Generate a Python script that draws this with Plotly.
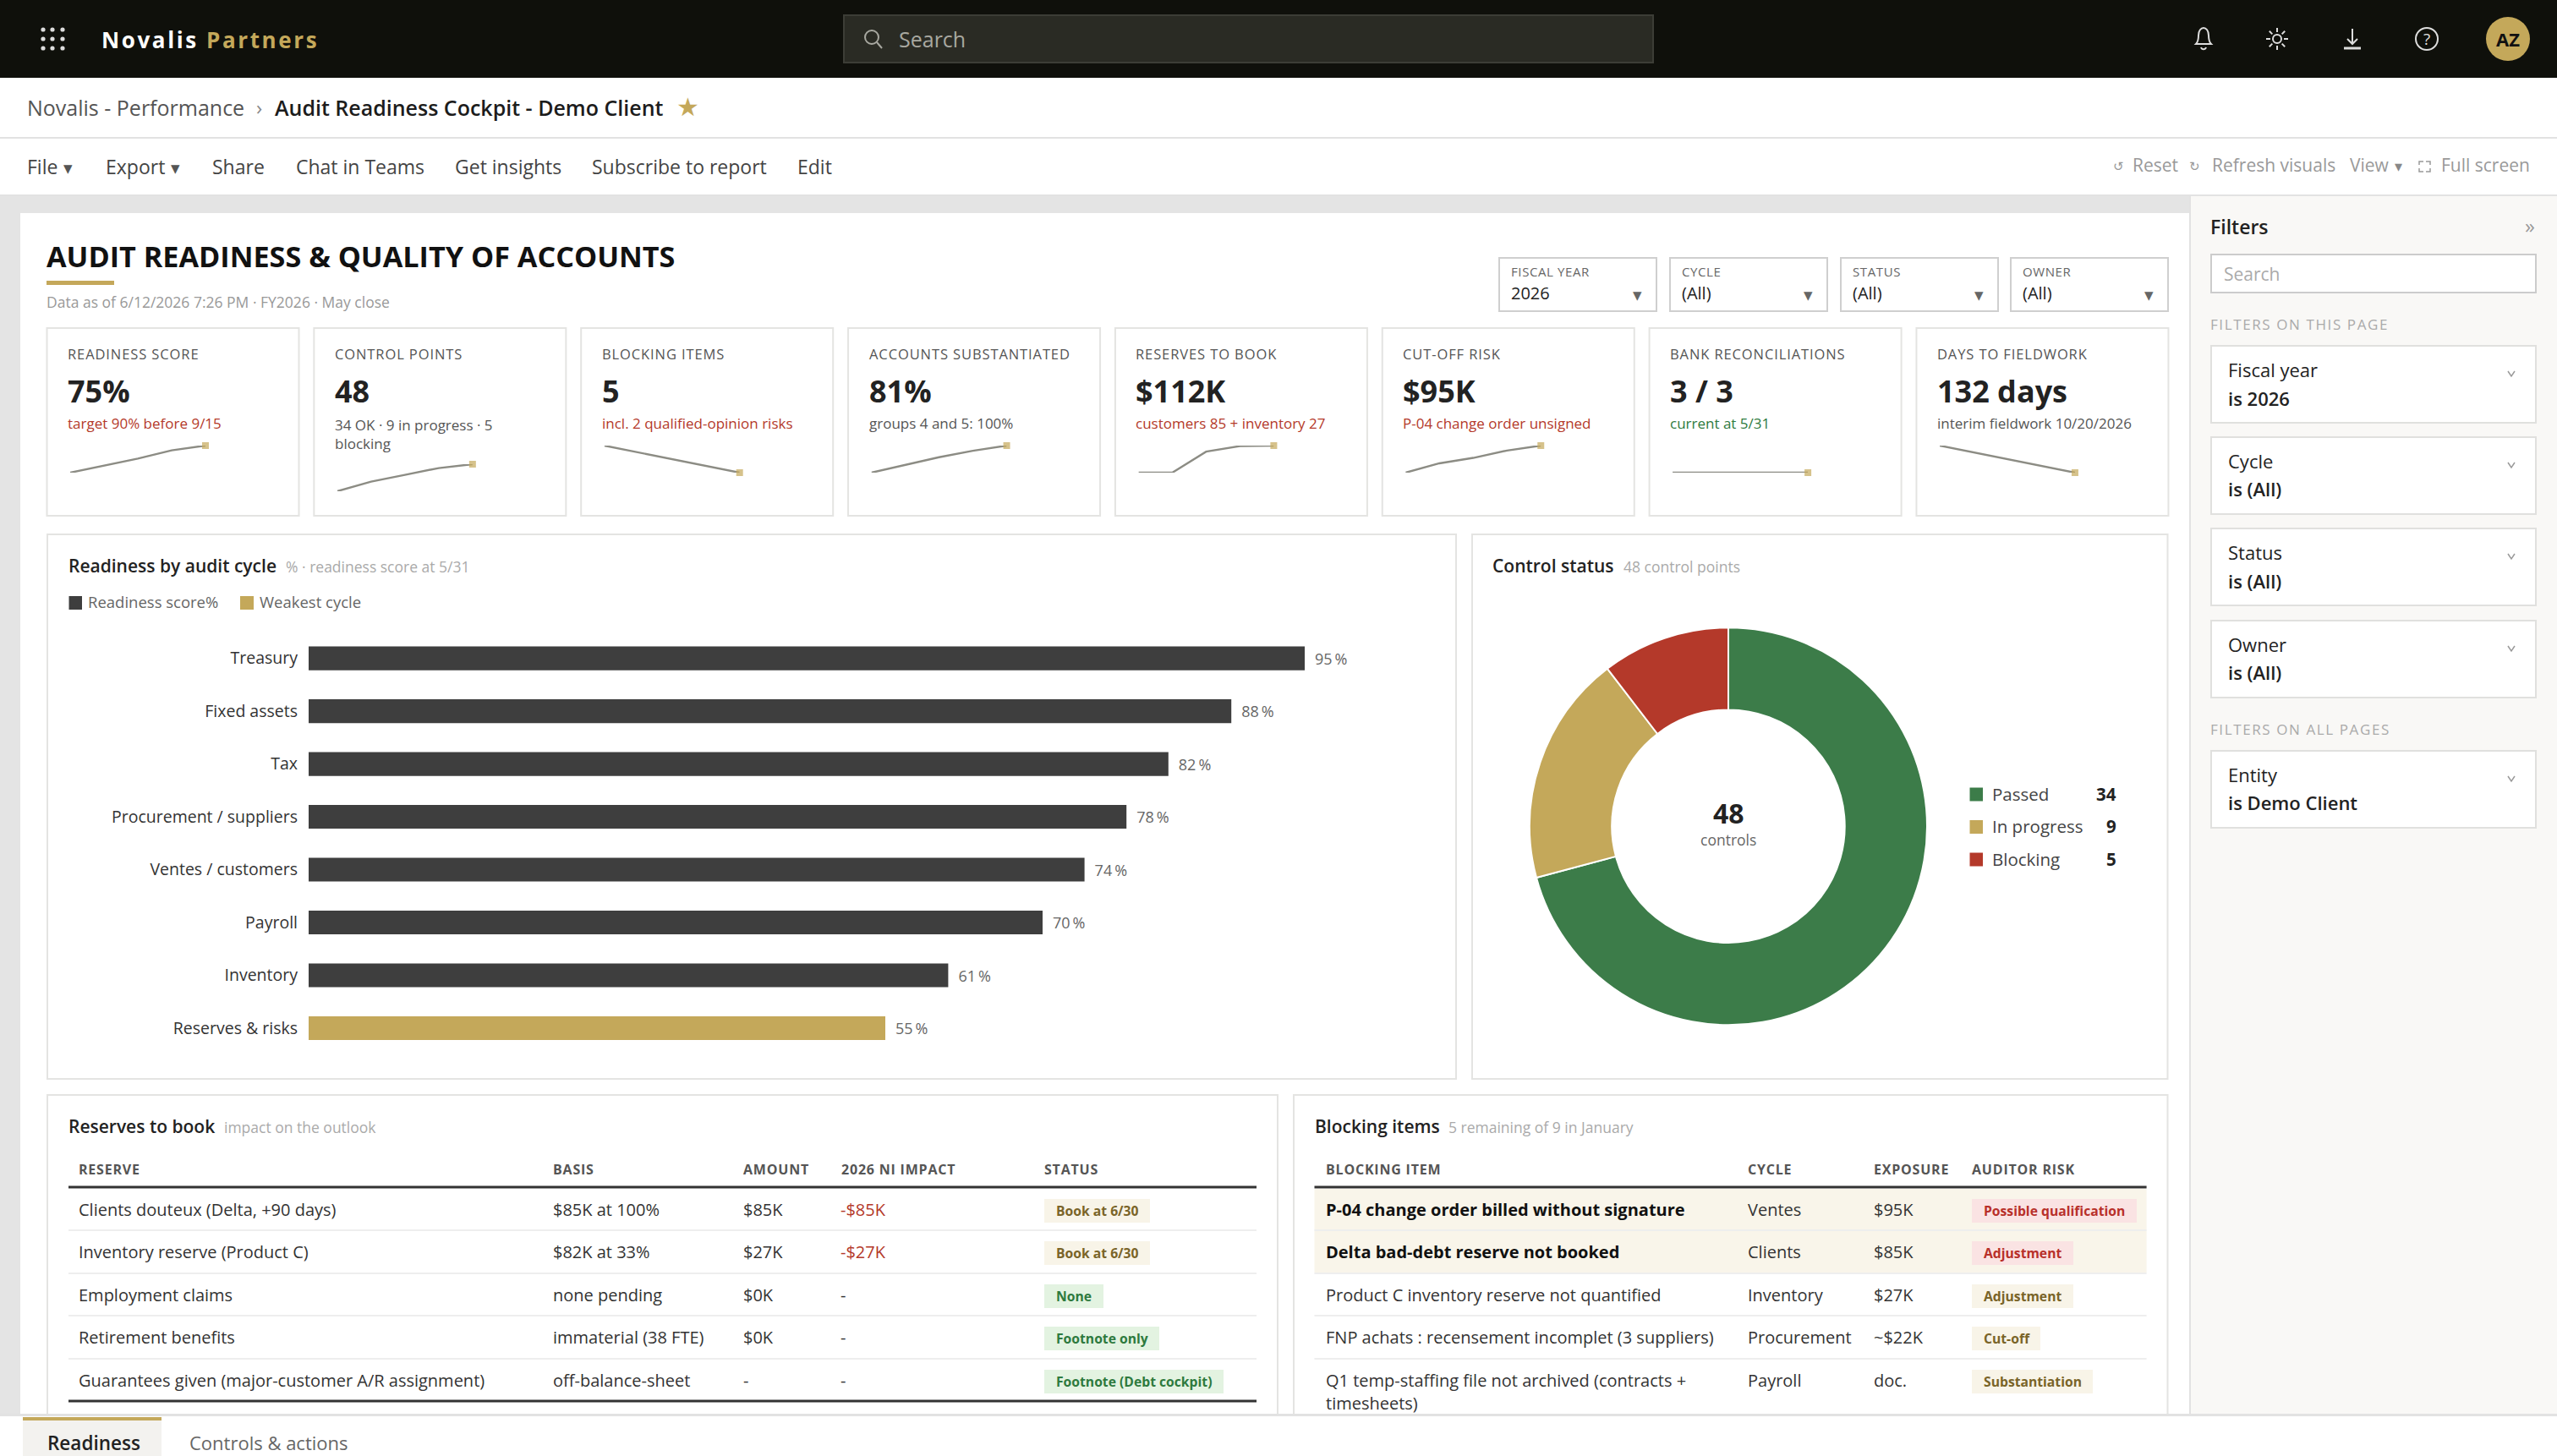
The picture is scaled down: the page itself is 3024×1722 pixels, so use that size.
import math
import re
from plotly import graph_objects as go

W, H = 3024, 1722
FONT = "Open Sans"
GOLD = "#c4a85a"
DARK = "#3e3e3e"
GREEN = "#3c7c49"
RED = "#b4392a"
INK = "#222222"
EDGE = "#e4e4e2"

# bar chart
cycles = ["Treasury", "Fixed assets", "Tax", "Procurement / suppliers",
          "Ventes / customers", "Payroll", "Inventory", "Reserves & risks"]
scores = [95, 88, 82, 78, 74, 70, 61, 55]

# donut
status_names = ["Passed", "In progress", "Blocking"]
status_counts = [34, 9, 5]

# KPI cards
kpi_labels = ["READINESS SCORE", "CONTROL POINTS", "BLOCKING ITEMS", "ACCOUNTS SUBSTANTIATED",
              "RESERVES TO BOOK", "CUT-OFF RISK", "BANK RECONCILIATIONS", "DAYS TO FIELDWORK"]
kpi_values = ["75%", "48", "5", "81%", "$112K", "$95K", "3 / 3", "132 days"]
kpi_notes = ["target 90% before 9/15", "34 OK · 9 in progress · 5<br>blocking", "incl. 2 qualified-opinion risks",
             "groups 4 and 5: 100%", "customers 85 + inventory 27", "P-04 change order unsigned",
             "current at 5/31", "interim fieldwork 10/20/2026"]
kpi_note_colors = [RED, "#555555", RED, "#555555", RED, RED, "#2e7a3e", "#555555"]
kpi_sparks = [
    [52, 58, 64, 71, 75],
    [20, 30, 37, 44, 48],
    [9, 8, 7, 6, 5],
    [60, 66, 72, 77, 81],
    [0, 0, 87, 110, 112],
    [40, 59, 70, 85, 95],
    [3, 3, 3, 3, 3],
    [200, 183, 166, 149, 132],
]
spark_x = [0, 1, 2, 3, 4]

# tables
reserve_head = ["RESERVE", "BASIS", "AMOUNT", "2026 NI IMPACT", "STATUS"]
reserve_names = ["Clients douteux (Delta, +90 days)", "Inventory reserve (Product C)", "Employment claims",
                 "Retirement benefits", "Guarantees given (major-customer A/R assignment)"]
reserve_basis = ["$85K at 100%", "$82K at 33%", "none pending", "immaterial (38 FTE)", "off-balance-sheet"]
reserve_amount = ["$85K", "$27K", "$0K", "$0K", "-"]
reserve_impact = ["-$85K", "-$27K", "-", "-", "-"]
reserve_status = ["Book at 6/30", "Book at 6/30", "None", "Footnote only", "Footnote (Debt cockpit)"]
reserve_tone = ["gold", "gold", "green", "green", "green"]
reserve_badge_w = [125, 125, 70, 136, 212]

blocking_head = ["BLOCKING ITEM", "CYCLE", "EXPOSURE", "AUDITOR RISK"]
blocking_names = ["<b>P-04 change order billed without signature</b>", "<b>Delta bad-debt reserve not booked</b>",
                  "Product C inventory reserve not quantified", "FNP achats : recensement incomplet (3 suppliers)",
                  "Q1 temp-staffing file not archived (contracts +"]
blocking_cycle = ["Ventes", "Clients", "Inventory", "Procurement", "Payroll"]
blocking_exposure = ["$95K", "$85K", "$27K", "~$22K", "doc."]
blocking_risk = ["Possible qualification", "Adjustment", "Adjustment", "Cut-off", "Substantiation"]
blocking_tone = ["red", "red", "gold", "gold", "gold"]
blocking_badge_w = [195, 120, 120, 81, 143]

# filter pane
filter_names = ["Fiscal year", "Cycle", "Status", "Owner"]
filter_values = ["is 2026", "is (All)", "is (All)", "is (All)"]
slicer_names = ["FISCAL YEAR", "CYCLE", "STATUS", "OWNER"]
slicer_values = ["2026", "(All)", "(All)", "(All)"]

toolbar_items = [("File", 32), ("Export", 125), ("Share", 251), ("Chat in Teams", 350),
                 ("Get insights", 538), ("Subscribe to report", 700), ("Edit", 943)]

tones = {"gold": ("#f8f4e8", "#7a6428"), "green": ("#e3f3e1", "#2e7a3e"), "red": ("#fae3e3", "#b8302a")}

shapes, notes = [], []


def fx(x):
    return x / W


def fy(y):
    return 1 - y / H


def box(x0, y0, x1, y1, fill="rgba(0,0,0,0)", line=None, width=2):
    shapes.append(dict(type="rect", xref="paper", yref="paper", x0=fx(x0), x1=fx(x1), y0=fy(y0), y1=fy(y1),
                       fillcolor=fill, layer="below",
                       line=dict(color=line or "rgba(0,0,0,0)", width=width if line else 0)))


def disc(cx, cy, r, fill="rgba(0,0,0,0)", line=None, width=2):
    shapes.append(dict(type="circle", xref="paper", yref="paper", x0=fx(cx - r), x1=fx(cx + r),
                       y0=fy(cy + r), y1=fy(cy - r), fillcolor=fill, layer="below",
                       line=dict(color=line or "rgba(0,0,0,0)", width=width if line else 0)))


def path(d, line="#dddddd", width=2, fill="rgba(0,0,0,0)"):
    # d is written in pixels, converted here to paper fractions
    out, odd = [], True
    for tok in re.findall(r"[MLCQZ]|-?[\d.]+", d):
        if tok in "MLCQZ":
            out.append(tok)
            odd = True
        else:
            out.append(str(fx(float(tok))) if odd else str(fy(float(tok))))
            odd = not odd
    shapes.append(dict(type="path", xref="paper", yref="paper", path=" ".join(out), fillcolor=fill, layer="below",
                       line=dict(color=line, width=width)))


def label(x, y, text, size=21, color=INK, weight=400, anchor="left", spacing=None):
    if spacing:
        text = f'<span style="letter-spacing:{spacing}px">{text}</span>'
    if anchor == "left":
        x -= 1.5
    elif anchor == "right":
        x += 1.5
    notes.append(dict(xref="paper", yref="paper", x=fx(x), y=fy(y - 1), text=text, showarrow=False, xanchor=anchor,
                      yanchor="middle", borderpad=0, align=anchor,
                      font=dict(family=FONT, size=size, color=color, weight=weight)))


# page chrome
box(0, 0, W, 92, "#0f100b")
box(0, 232, 2589, 1673, "#e4e4e4")
box(24, 252, 2589, 1673, "#ffffff")
box(0, 162, W, 164, "#e2e2e2")
box(0, 230, W, 232, "#e2e2e2")
box(2589, 232, W, 1673, "#f9f8f6")
box(2589, 232, 2591, 1673, "#e2e2e2")
box(0, 1672, W, 1675, "#e2e2e2")

for gx in (51, 62, 74):
    for gy in (35, 46, 57):
        disc(gx, gy, 2.6, "#dddddd")
notes.append(dict(xref="paper", yref="paper", x=fx(119), y=fy(46.5), showarrow=False, xanchor="left", yanchor="middle",
                  borderpad=0, font=dict(family=FONT, size=26, color="#ffffff", weight=700),
                  text=f'<span style="letter-spacing:2.6px">Novalis <span style="fill:{GOLD}">Partners</span></span>'))

box(998, 18, 1955, 74, "#2a2b24", "#3c3d36", 2)
disc(1031, 44, 8, line="#a8a8a0", width=2)
path("M 1037 50 L 1043 57", "#a8a8a0")
label(1063, 47, "Search", 25, "#a8a8a0")

path("M 2597 52 C 2600 49 2600 44 2600 42 C 2600 36 2603 33 2606 33 C 2609 33 2612 36 2612 42 C 2612 44 2612 49 2615 52 Z")
path("M 2603 56 C 2604 59 2608 59 2609 56")
disc(2693, 46, 5, line="#dddddd")
for k in range(8):
    a = k * math.pi / 4
    path(f"M {2693 + 8 * math.cos(a)} {46 + 8 * math.sin(a)} L {2693 + 13 * math.cos(a)} {46 + 13 * math.sin(a)}")
path("M 2782 34 L 2782 52 M 2776 46 L 2782 52 L 2788 46")
path("M 2772 57 L 2792 57", width=3)
disc(2870, 46, 13, line="#dddddd")
label(2870, 47, "?", 19, "#dddddd", anchor="center")
disc(2966, 46, 26, GOLD)
label(2966, 47, "AZ", 22, "#111111", 700, "center")

# breadcrumb and toolbar
label(32, 128, "Novalis - Performance", 25, "#555555")
label(306, 128, "›", 24, "#888888", anchor="center")
label(325, 128, "Audit Readiness Cockpit - Demo Client", 25, "#1c1c1c", 600)
label(813, 127, "★", 30, GOLD, anchor="center")
for name, tx in toolbar_items:
    label(tx, 198, name, 23, "#444444")
label(80, 199, "▾", 21, "#555555", anchor="center")
label(207, 199, "▾", 21, "#555555", anchor="center")
label(2505, 197, "↺", 15, "#999999", anchor="center")
label(2522, 196, "Reset", 21, "#999999")
label(2595, 197, "↻", 15, "#999999", anchor="center")
label(2616, 196, "Refresh visuals", 21, "#999999")
label(2779, 196, "View", 21, "#999999")
label(2836, 197, "▾", 18, "#888888", anchor="center")
path("M 2861 195 L 2861 191 L 2866 191 M 2869 191 L 2874 191 L 2874 195 M 2874 199 L 2874 203 L 2869 203 M 2866 203 L 2861 203 L 2861 199",
     "#999999", 1.5)
label(2887, 196, "Full screen", 21, "#999999")

# title block
label(55, 303, "AUDIT READINESS &amp; QUALITY OF ACCOUNTS", 34.2, "#111111", 700)
box(55, 332, 135, 337, GOLD)
label(55, 358, "Data as of 6/12/2026 7:26 PM · FY2026 · May close", 17.5, "#999999")

for i, (name, value) in enumerate(zip(slicer_names, slicer_values)):
    x0 = [1772, 1974, 2176, 2377][i]
    box(x0 + 1, 305, x0 + 187, 368, "#ffffff", "#cfcfcf", 2)
    label(x0 + 15, 322, name, 15, "#666666", spacing=0.6)
    label(x0 + 15, 347, value, 20, INK)
    label(x0 + 164, 349, "▾", 21, "#666666", anchor="center")

# KPI cards
card_w = 298
fig = go.Figure()
layout_axes = {}
for i in range(8):
    x0 = 55.5 + i * 315.85
    box(x0, 388, x0 + card_w, 610, "#ffffff", EDGE, 2)
    label(x0 + 25, 419, kpi_labels[i], 16.5, "#555555", spacing=0.9)
    label(x0 + 25, 463, kpi_values[i], 36, INK, 700)
    note_y = 514 if "<br>" in kpi_notes[i] else 502
    label(x0 + 25, note_y, kpi_notes[i], 17, kpi_note_colors[i], 500)

    vals = kpi_sparks[i]
    lo, hi = min(vals), max(vals)
    if lo == hi:
        hi = lo + 1
    top = 549 if i == 1 else 527
    n = i + 2
    fig.add_trace(go.Scatter(
        x=spark_x, y=vals, xaxis=f"x{n}", yaxis=f"y{n}", mode="lines+markers", showlegend=False, hoverinfo="skip",
        cliponaxis=False, line=dict(color="#8c8c84", width=2.4),
        marker=dict(symbol="square", size=[0, 0, 0, 0, 8], color=GOLD, line=dict(width=0)),
    ))
    layout_axes[f"xaxis{n}"] = dict(domain=[fx(x0 + 27.5), fx(x0 + 187.5)], range=[0, 4], visible=False, fixedrange=True, anchor=f"y{n}")
    layout_axes[f"yaxis{n}"] = dict(domain=[fy(top + 32), fy(top)], range=[lo, hi], visible=False, fixedrange=True, anchor=f"x{n}")

# bar panel
box(56, 632, 1722, 1276, "#ffffff", EDGE, 2)
label(81.5, 670, "Readiness by audit cycle", 21, INK, 600)
label(338, 671, "% · readiness score at 5/31", 17.5, "#aaaaaa")
box(81.5, 705, 97, 721, DARK)
label(104, 713, "Readiness score%", 18.5, "#666666")
box(284, 705, 300, 721, GOLD)
label(307, 713, "Weakest cycle", 18.5, "#666666")

bar_text = dict(texttemplate="\u2002%{x}\u2009%", textposition="outside", cliponaxis=False,
                textfont=dict(family=FONT, size=18, color="#666666"), hoverinfo="skip", showlegend=False)
fig.add_trace(go.Bar(name="Readiness score%", x=scores[:7], y=cycles[:7], orientation="h", marker=dict(color=DARK, line=dict(width=0)), **bar_text))
fig.add_trace(go.Bar(name="Weakest cycle", x=scores[7:], y=cycles[7:], orientation="h", marker=dict(color=GOLD, line=dict(width=0)), **bar_text))

# donut panel
box(1741, 632, 2563.5, 1276, "#ffffff", EDGE, 2)
label(1765.5, 670, "Control status", 21, INK, 600)
label(1920, 671, "48 control points", 17.5, "#aaaaaa")
fig.add_trace(go.Pie(
    labels=status_names, values=status_counts, hole=0.586, sort=False, direction="clockwise", rotation=0,
    textinfo="none", hoverinfo="skip", showlegend=False,
    marker=dict(colors=[GREEN, GOLD, RED], line=dict(color="#ffffff", width=2)),
    domain=dict(x=[fx(1809), fx(2279)], y=[fy(1213), fy(741.5)]),
))
label(2044, 963, str(sum(status_counts)), 32, INK, 700, "center")
label(2044, 994, "controls", 17.5, "#666666", anchor="center")
for name, count, color, ly in zip(status_names, status_counts, [GREEN, GOLD, RED], [939.5, 978, 1016.5]):
    box(2329.5, ly - 8, 2345, ly + 8, color)
    label(2356, ly, name, 20.5, "#444444")
    label(2502, ly, str(count), 20.5, INK, 700, "right")

# tables
row_y = [1431, 1481, 1532, 1582, 1633]
row_rules = [1455, 1506, 1556, 1607]


def table_frame(x0, x1, title, tx, sub, sx):
    box(x0, 1295, x1, 1690, "#ffffff", EDGE, 2)
    label(tx, 1333, title, 21, INK, 600)
    label(sx, 1334, sub, 17.5, "#aaaaaa")


def badges(x, names, widths, tone_names):
    for name, w, tone, y in zip(names, widths, tone_names, row_y):
        bg, fg = tones[tone]
        box(x, y - 13, x + w, y + 15, bg)
        label(x + 14, y + 2, name, 15.7, fg, 700)


# reserves
table_frame(56, 1511, "Reserves to book", 81, "impact on the outlook", 265)
for head, hx in zip(reserve_head, [93.6, 654, 879, 995, 1235]):
    label(hx, 1384, head, 16, "#555555", 700, spacing=0.8)
for y, a, b, c, d in zip(row_y, reserve_names, reserve_basis, reserve_amount, reserve_impact):
    label(93.6, y, a, 20, "#333333")
    label(654, y, b, 20, "#333333")
    label(879, y, c, 20, "#333333")
    label(995, y, d, 20, RED if d != "-" else "#333333")
badges(1235, reserve_status, reserve_badge_w, reserve_tone)
for ry in row_rules:
    box(81, ry - 1, 1486, ry + 1, "#eeeeee")
box(81, 1402.5, 1486, 1405.5, "#333333")
box(81, 1655.5, 1486, 1658.5, "#333333")

# blocking
table_frame(1530, 2563.5, "Blocking items", 1555.5, "5 remaining of 9 in January", 1714)
box(1554.5, 1406, 2538.6, 1505, "#f9f5ea")
for head, hx in zip(blocking_head, [1568, 2067.7, 2216, 2332]):
    label(hx, 1384, head, 16, "#555555", 700, spacing=0.8)
for k, (y, a, b, c) in enumerate(zip(row_y, blocking_names, blocking_cycle, blocking_exposure)):
    label(1568, y, a, 20, "#111111" if k < 2 else "#333333")
    label(2067.7, y, b, 20, "#333333")
    label(2216, y, c, 20, "#333333")
label(1568, 1660, "timesheets)", 20, "#333333")
badges(2332, blocking_risk, blocking_badge_w, blocking_tone)
for ry in row_rules:
    box(1554.5, ry - 1, 2538.6, ry + 1, "#eeeeee")
box(1554.5, 1402.5, 2538.6, 1405.5, "#333333")

# tab bar, covers the lower edge of the table cards
box(0, 1672, W, 1722, "#ffffff")
box(0, 1672, W, 1675, "#e2e2e2")
box(27, 1680, 191, 1722, "#f3f2ef")
box(27, 1676, 191, 1680, GOLD)
label(56, 1707, "Readiness", 22.5, INK, 600)
label(224, 1707, "Controls &amp; actions", 22, "#666666")

# filter pane
label(2614, 269, "Filters", 23, INK, 600)
label(2992, 268, "»", 24, "#999999", anchor="center")
box(2615, 301, 2999, 346, "#ffffff", "#cccccc", 2)
label(2630, 325, "Search", 21, "#aaaaaa")
label(2614, 385, "FILTERS ON THIS PAGE", 17, "#aaaaaa", spacing=1.6)
pane_tops = [408, 516, 624, 733, 887]
pane_names = filter_names + ["Entity"]
pane_values = filter_values + ["is Demo Client"]
for top, name, value in zip(pane_tops, pane_names, pane_values):
    box(2615, top + 1, 2999, top + 92, "#ffffff", "#e0e0de", 2)
    label(2635, top + 30, name, 22, INK)
    label(2635, top + 63.5, value, 22, INK, 600)
    path(f"M {2966} {top + 31} L {2970} {top + 37} L {2974} {top + 31}", "#999999", 1.5)
label(2614, 863, "FILTERS ON ALL PAGES", 17, "#aaaaaa", spacing=1.6)

fig.update_layout(
    width=W, height=H, autosize=False, margin=dict(l=0, r=0, t=0, b=0, pad=0),
    paper_bgcolor="#ffffff", plot_bgcolor="rgba(0,0,0,0)", showlegend=False, barmode="overlay", bargap=0.55,
    font=dict(family=FONT), shapes=shapes, annotations=notes,
    xaxis=dict(domain=[fx(365), fx(365 + 1240)], range=[0, 100], visible=False, fixedrange=True),
    yaxis=dict(domain=[fy(1247.25), fy(747.35)], categoryorder="array", categoryarray=cycles, autorange="reversed",
               showgrid=False, showline=False, zeroline=False, ticks="", ticklabelstandoff=12, fixedrange=True,
               tickfont=dict(family=FONT, size=19.5, color="#333333")),
    **layout_axes,
)

fig.write_html("out.html", config=dict(displayModeBar=False),
               post_script="document.body.style.margin='0';document.body.style.overflow='hidden';")
